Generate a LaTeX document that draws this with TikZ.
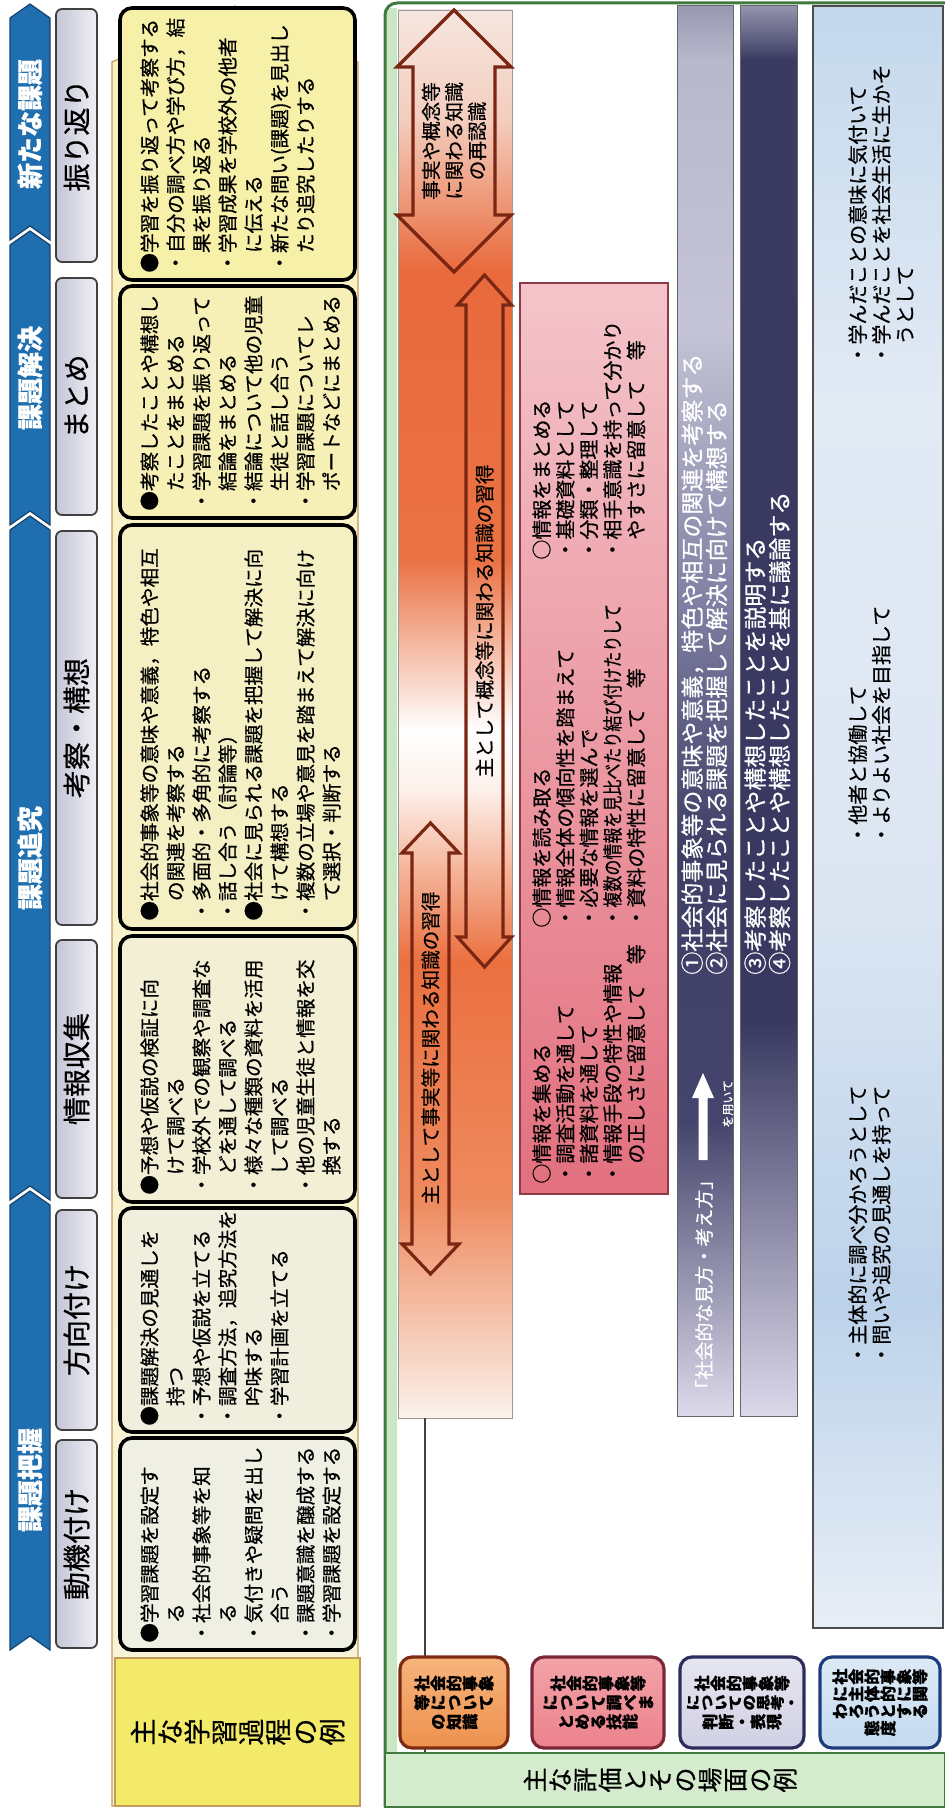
\documentclass[tikz,border=0pt]{standalone}
\usepackage{fontspec}
\setmainfont{Noto Sans CJK JP}[FakeBold=0.6]
\ExplSyntaxOn
\NewDocumentCommand\tate{m}{\tl_map_inline:nn{#1}{\rotatebox[origin=c]{90}{\makebox[1em]{\rule[-0.12em]{0pt}{1em}##1}}}}
\ExplSyntaxOff
\definecolor{hblue}{HTML}{1F6EB0}
\definecolor{hbluedk}{HTML}{17456F}
\definecolor{stgL}{HTML}{C4C6D6}
\definecolor{stgR}{HTML}{EFEFF4}
\definecolor{ybgT}{HTML}{F8F2BE}
\definecolor{ybgB}{HTML}{F7F3DA}
\definecolor{ybd}{HTML}{C49A5A}
\definecolor{yf6}{HTML}{F7F0A8}
\definecolor{yf5}{HTML}{F6F0B6}
\definecolor{yf4}{HTML}{F4F0C4}
\definecolor{yf3}{HTML}{F2EFD4}
\definecolor{yf2}{HTML}{F0EFDE}
\definecolor{yf1}{HTML}{EFEFE4}
\definecolor{ylab}{HTML}{F2EA68}
\definecolor{gline}{HTML}{3E7A3E}
\definecolor{gband}{HTML}{CBE6C2}
\definecolor{gstrip}{HTML}{D5EBCD}
\definecolor{oa}{HTML}{F6E6E0}
\definecolor{ob}{HTML}{F3CDBE}
\definecolor{oc}{HTML}{E96A3C}
\definecolor{od}{HTML}{EA7244}
\definecolor{oe}{HTML}{FDF0EA}
\definecolor{of}{HTML}{EB7040}
\definecolor{og}{HTML}{EE8A5E}
\definecolor{oh}{HTML}{FBF2EC}
\definecolor{arrc}{HTML}{7A2612}
\definecolor{pkT}{HTML}{F4C4CA}
\definecolor{pkM}{HTML}{EC9AA4}
\definecolor{pkB}{HTML}{E3707E}
\definecolor{pkD}{HTML}{8C3A46}
\definecolor{baA}{HTML}{9898B2}
\definecolor{baB}{HTML}{B8B8CC}
\definecolor{baC}{HTML}{C4C4D6}
\definecolor{baD}{HTML}{8080A4}
\definecolor{baE}{HTML}{3E3E66}
\definecolor{baF}{HTML}{44446C}
\definecolor{baG}{HTML}{DCDAEA}
\definecolor{bbA}{HTML}{9494AE}
\definecolor{bbB}{HTML}{3A3A62}
\definecolor{bbC}{HTML}{383860}
\definecolor{bbD}{HTML}{DCD8EA}
\definecolor{lbA}{HTML}{C4D8EC}
\definecolor{lbB}{HTML}{E2EAF4}
\definecolor{lbC}{HTML}{DCE6F2}
\definecolor{lbD}{HTML}{BCD2EA}
\definecolor{lbE}{HTML}{E8EEF6}
\definecolor{evOT}{HTML}{F6B47C}
\definecolor{evOB}{HTML}{EE914E}
\definecolor{evOD}{HTML}{7B2C12}
\definecolor{evPT}{HTML}{F3A2A8}
\definecolor{evPB}{HTML}{EC828C}
\definecolor{evPD}{HTML}{7A2838}
\definecolor{evLT}{HTML}{E6E6F0}
\definecolor{evLB}{HTML}{D0D0E4}
\definecolor{evLD}{HTML}{2C2C5E}
\definecolor{evBT}{HTML}{DDEAF6}
\definecolor{evBB}{HTML}{C4DAF0}
\definecolor{evBD}{HTML}{1C3C7C}
\begin{document}
\begin{tikzpicture}[x=0.5pt,y=-0.5pt,
  hdr/.style={fill=hblue,draw=hbluedk,line width=0.6pt},
  hdrtxt/.style={rotate=90,text=white,inner sep=0pt,font=\fontsize{13}{15}\selectfont\bfseries},
  stagebox/.style={left color=stgL,right color=stgR,draw=black!75,line width=0.9pt,rounded corners=3pt},
  stagetxt/.style={rotate=90,inner sep=0pt,font=\fontsize{14}{16}\selectfont},
  procbox/.style={draw=black,line width=1.8pt,rounded corners=6pt},
  body/.style={rotate=90,anchor=north west,align=left,inner sep=0pt,font=\fontsize{9.8}{13}\selectfont},
  arrtxt/.style={rotate=90,inner sep=0pt,align=center,font=\fontsize{9.8}{11.5}\selectfont},
  dblarrow/.style={draw=arrc,line width=1.6pt,line join=miter},
  pinktxt/.style={rotate=90,anchor=north west,align=left,inner sep=0pt,font=\fontsize{10}{11.8}\selectfont},
  bartxt/.style={rotate=90,anchor=north west,align=left,inner sep=0pt,text=white,font=\fontsize{11.5}{12.2}\selectfont},
  bluetxt/.style={rotate=90,anchor=north west,align=left,inner sep=0pt,font=\fontsize{10}{11.8}\selectfont},
  evtxt/.style={align=center,inner sep=0pt,font=\fontsize{8}{9.6}\selectfont\bfseries},
  evbox/.style={line width=1.6pt,rounded corners=6pt}
]
\useasboundingbox (0,0) rectangle (945,1809);
\fill[white] (0,0) rectangle (945,1809);

% ---------- blue headers ----------
\path[hdr] (10,18) -- (30,4) -- (50,18) -- (50,240) -- (30,226) -- (10,240) -- cycle;
\node[hdrtxt] (h4) at (30,124) {新たな課題};
\path[hdr] (10,245) -- (30,231) -- (50,245) -- (50,525) -- (30,511) -- (10,525) -- cycle;
\node[hdrtxt] (h3) at (30,378) {課題解決};
\path[hdr] (10,530) -- (30,516) -- (50,530) -- (50,1200) -- (30,1186) -- (10,1200) -- cycle;
\node[hdrtxt] (h2) at (30,858) {課題追究};
\path[hdr] (10,1205) -- (30,1191) -- (50,1205) -- (50,1650) -- (30,1636) -- (10,1650) -- cycle;
\node[hdrtxt] (h1) at (30,1480) {課題把握};

% ---------- stage boxes ----------
\path[stagebox] (56,9) rectangle (97,262);
\node[stagetxt] (s6) at (76.5,135.5) {振り返り};
\path[stagebox] (56,278) rectangle (97,515);
\node[stagetxt] (s5) at (76.5,396.5) {まとめ};
\path[stagebox] (56,531) rectangle (97,925);
\node[stagetxt] (s4) at (76.5,728) {考察・構想};
\path[stagebox] (56,940) rectangle (97,1198);
\node[stagetxt] (s3) at (76.5,1069) {情報収集};
\path[stagebox] (56,1210) rectangle (97,1430);
\node[stagetxt] (s2) at (76.5,1320) {方向付け};
\path[stagebox] (56,1440) rectangle (97,1648);
\node[stagetxt] (s1) at (76.5,1544) {動機付け};

% ---------- learning process area ----------
\path[top color=ybgT,bottom color=ybgB,draw=ybd,line width=0.6pt] (112,1806) -- (112,62) -- (235,6) -- (358,62) -- (358,1806) -- cycle;

\path[procbox,fill=yf6] (120,8) rectangle (355,280);
\node[body] (p6) at (140,273) {●学習を振り返って考察する\\・自分の調べ方や学び方，結\\\hspace*{1em}果を振り返る\\・学習成果を学校外の他者\\\hspace*{1em}に伝える\\・新たな問い(課題)を見出し\\\hspace*{1em}たり追究したりする};

\path[procbox,fill=yf5] (120,286) rectangle (355,518);
\node[body] (p5) at (140,511) {●考察したことや構想し\\\hspace*{1em}たことをまとめる\\・学習課題を振り返って\\\hspace*{1em}結論をまとめる\\・結論について他の児童\\\hspace*{1em}生徒と話し合う\\・学習課題についてレ\\\hspace*{1em}ポートなどにまとめる};

\path[procbox,fill=yf4] (120,525) rectangle (355,929);
\node[body] (p4) at (140,921) {●社会的事象等の意味や意義，特色や相互\\\hspace*{1em}の関連を考察する\\・多面的・多角的に考察する\\・話し合う（討論等）\\●社会に見られる課題を把握して解決に向\\\hspace*{1em}けて構想する\\・複数の立場や意見を踏まえて解決に向け\\\hspace*{1em}て選択・判断する};

\path[procbox,fill=yf3] (120,936) rectangle (355,1202);
\node[body] (p3) at (140,1195) {●予想や仮説の検証に向\\\hspace*{1em}けて調べる\\・学校外での観察や調査な\\\hspace*{1em}どを通して調べる\\・様々な種類の資料を活用\\\hspace*{1em}して調べる\\・他の児童生徒と情報を交\\\hspace*{1em}換する};

\path[procbox,fill=yf2] (120,1208) rectangle (355,1432);
\node[body] (p2) at (140,1426) {●課題解決の見通しを\\\hspace*{1em}持つ\\・予想や仮説を立てる\\・調査方法，追究方法を\\\hspace*{1em}吟味する\\・学習計画を立てる};

\path[procbox,fill=yf1] (120,1438) rectangle (355,1650);
\node[body] (p1) at (140,1643) {●学習課題を設定す\\\hspace*{1em}る\\・社会的事象等を知\\\hspace*{1em}る\\・気付きや疑問を出し\\\hspace*{1em}合う\\・課題意識を醸成する\\・学習課題を設定する};

\path[fill=ylab,draw=ybd,line width=0.6pt] (115,1658) rectangle (360,1806);
\node[inner sep=0pt,font=\fontsize{13.5}{15}\selectfont] (lab1) at (237.5,1732) {\tate{主な学習過程の例}};

% ---------- evaluation panel ----------
\fill[gband] (386,8) rectangle (397,1753);
\draw[gline,line width=1.5pt,rounded corners=6pt] (385,1807) -- (385,3) -- (945,3);

% knowledge column
\shade[top color=oa,bottom color=ob] (398,10) rectangle (512,120.5);
\shade[top color=ob,bottom color=oc] (398,120) rectangle (512,270.5);
\shade[top color=oc,bottom color=od] (398,270) rectangle (512,560.5);
\shade[top color=od,bottom color=white] (398,560) rectangle (512,730.5);
\shade[top color=white,bottom color=oe] (398,730) rectangle (512,790.5);
\shade[top color=oe,bottom color=of] (398,790) rectangle (512,960.5);
\shade[top color=of,bottom color=og] (398,960) rectangle (512,1200.5);
\shade[top color=og,bottom color=oh] (398,1200) rectangle (512,1418);
\draw[black!40,line width=0.4pt] (398,10) rectangle (512,1418);

\draw[dblarrow] (454,10) -- (511,67) -- (495,67) -- (495,215) -- (511,215) -- (454,272) -- (397,215) -- (413,215) -- (413,67) -- (397,67) -- cycle;
\node[arrtxt] (k1) at (454,141) {事実や概念等\\に関わる知識\\の再認識};

\draw[dblarrow] (484.5,275) -- (511.5,305) -- (503,305) -- (503,937) -- (511.5,937) -- (484.5,967) -- (457.5,937) -- (466,937) -- (466,305) -- (457.5,305) -- cycle;
\node[arrtxt] (k2) at (484.5,621) {主として概念等に関わる知識の習得};

\draw[dblarrow] (430.5,823) -- (459,853) -- (449,853) -- (449,1244) -- (459,1244) -- (430.5,1274) -- (402,1244) -- (412,1244) -- (412,853) -- (402,853) -- cycle;
\node[arrtxt] (k3) at (430.5,1048) {主として事実等に関わる知識の習得};

\coordinate (kbot) at (425,1418);
\coordinate (stripTop) at (425,1753);
\draw[black!75,line width=1pt] (kbot) -- (stripTop);

% skills (pink) box
\shadedraw[top color=pkT,middle color=pkM,bottom color=pkB,draw=pkD,line width=0.6pt] (520,283) rectangle (668,1194);
\node[pinktxt] (g1) at (532,560) {○情報をまとめる\\・基礎資料として\\・分類・整理して\\・相手意識を持って分かり\\\hspace*{1em}やすさに留意して　等};
\node[pinktxt] (g2) at (532,928) {○情報を読み取る\\・情報全体の傾向性を踏まえて\\・必要な情報を選んで\\・\scalebox{0.8}[1]{複数の情報を見比べたり結び付けたりして}\\・資料の特性に留意して　等};
\node[pinktxt] (g3) at (532,1184) {○情報を集める\\・調査活動を通して\\・諸資料を通して\\・情報手段の特性や情報\\\hspace*{1em}の正しさに留意して　等};

% bar 1
\shade[top color=baA,bottom color=baB] (677,6) rectangle (733,60.5);
\shade[top color=baB,bottom color=baC] (677,60) rectangle (733,330.5);
\shade[top color=baC,bottom color=baD] (677,330) rectangle (733,600.5);
\shade[top color=baD,bottom color=baE] (677,600) rectangle (733,850.5);
\shade[top color=baE,bottom color=baF] (677,850) rectangle (733,1120.5);
\shade[top color=baF,bottom color=baG] (677,1120) rectangle (733,1416);
\draw[black!60,line width=0.5pt] (677,6) rectangle (733,1416);
\node[bartxt] (b1) at (681,975) {①社会的事象等の意味や意義，特色や相互の関連を考察する\\②社会に見られる課題を把握して解決に向けて構想する};
\node[rotate=90,anchor=west,inner sep=0pt,text=white,font=\fontsize{9.5}{11}\selectfont] (vw) at (704,1399) {「社会的な見方・考え方」};
\fill[white] (703,1073) -- (714,1098) -- (707.5,1098) -- (707.5,1160) -- (698.5,1160) -- (698.5,1098) -- (692,1098) -- cycle;
\node[rotate=90,anchor=west,inner sep=0pt,text=white,font=\fontsize{6}{7}\selectfont] (mochi) at (728,1128) {を用いて};

% bar 2
\shade[top color=bbA,bottom color=bbB] (740,6) rectangle (797,60.5);
\shade[top color=bbB,bottom color=bbC] (740,60) rectangle (797,1020.5);
\shade[top color=bbC,bottom color=bbD] (740,1020) rectangle (797,1416);
\draw[black!60,line width=0.5pt] (740,6) rectangle (797,1416);
\node[bartxt] (b2) at (744,975) {③考察したことや構想したことを説明する\\④考察したことや構想したことを基に議論する};

% attitude (light blue) box
\shade[top color=lbA,bottom color=lbB] (813,6) rectangle (943,400.5);
\shade[top color=lbB,bottom color=lbC] (813,400) rectangle (943,900.5);
\shade[top color=lbC,bottom color=lbD] (813,900) rectangle (943,1300.5);
\shade[top color=lbD,bottom color=lbE] (813,1300) rectangle (943,1628);
\draw[black!70,line width=0.6pt] (813,6) rectangle (943,1628);
\node[bluetxt] (a1) at (848,365) {・学んだことの意味に気付いて\\・学んだことを社会生活に生かそ\\\hspace*{1em}うとして};
\node[bluetxt] (a2) at (848,845) {・他者と協働して\\・よりよい社会を目指して};
\node[bluetxt] (a3) at (848,1365) {・主体的に調べ分かろうとして\\・問いや追究の見通しを持って};

% evaluation label boxes
\shadedraw[evbox,top color=evOT,bottom color=evOB,draw=evOD] (400,1657) rectangle (508,1748);
\node[evtxt] (e1) at (454,1702.5) {\tate{社会的事象}\\\tate{等について}\\\tate{の知識}};
\shadedraw[evbox,top color=evPT,bottom color=evPB,draw=evPD] (532,1657) rectangle (664,1748);
\node[evtxt] (e2) at (598,1702.5) {\tate{社会的事象等}\\\tate{について調べま}\\\tate{とめる技能}};
\shadedraw[evbox,top color=evLT,bottom color=evLB,draw=evLD] (680,1657) rectangle (804,1748);
\node[evtxt] (e3) at (742,1702.5) {\tate{社会的事象等}\\\scalebox{0.88}[1]{\tate{についての思考・}}\\\tate{判断・表現}};
\shadedraw[evbox,top color=evBT,bottom color=evBB,draw=evBD] (820,1657) rectangle (940,1748);
\node[evtxt,font=\fontsize{8}{8.6}\selectfont\bfseries] (e4) at (880,1702.5) {\tate{社会的事象等}\\\tate{に主体的に関}\\\tate{わろうとする}\\\tate{態度}};

\path[fill=gstrip,draw=gline,line width=1pt] (385,1753) rectangle (945,1807);
\node[inner sep=0pt,font=\fontsize{12.5}{14}\selectfont] (lab2) at (660,1780) {\tate{主な評価とその場面の例}};
\end{tikzpicture}
\end{document}
